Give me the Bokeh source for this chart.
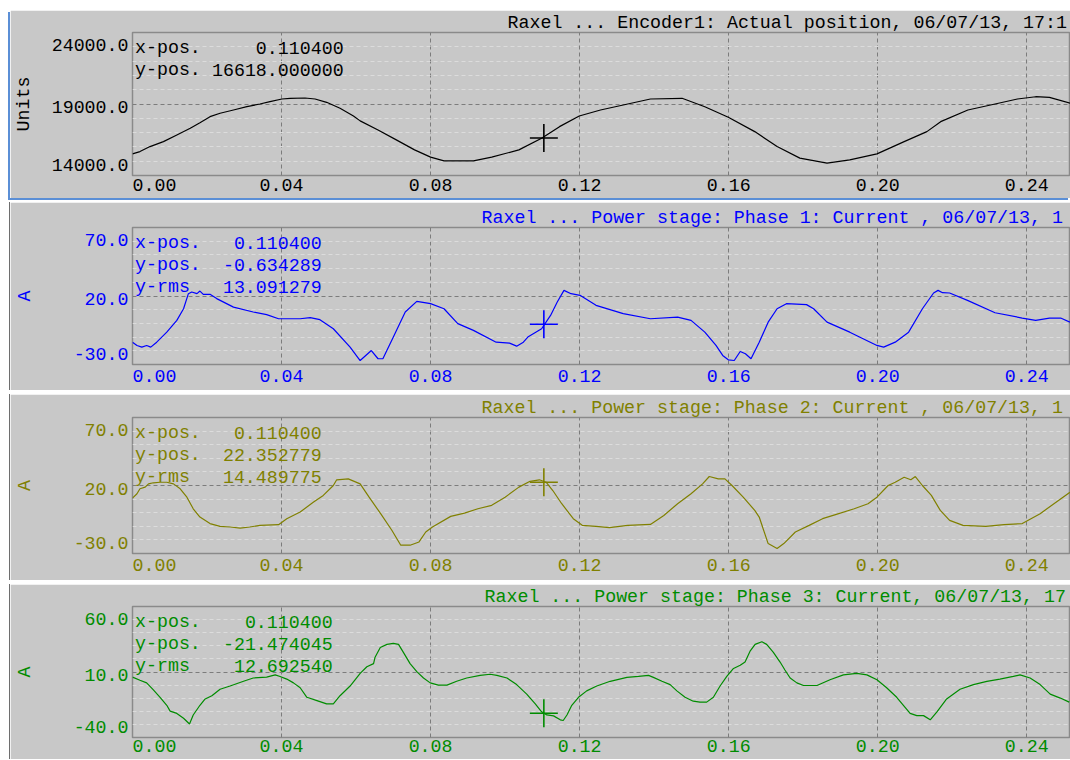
from bokeh.plotting import figure
from bokeh.layouts import column
from bokeh.models import FixedTicker, CustomJSTickFormatter, Label, Range1d
from bokeh.embed import file_html
from bokeh.resources import INLINE

# ---------------- data ----------------
cursor_x = 0.1104

enc_t = [0.0000, 0.0020, 0.0047, 0.0083, 0.0119, 0.0155, 0.0181, 0.0208, 0.0235, 0.0271,
         0.0307, 0.0342, 0.0369, 0.0401, 0.0423, 0.0463, 0.0490, 0.0521, 0.0557, 0.0593,
         0.0611, 0.0659, 0.0708, 0.0757, 0.0800, 0.0836, 0.0915, 0.0964, 0.1037, 0.1098,
         0.1146, 0.1199, 0.1256, 0.1317, 0.1390, 0.1475, 0.1536, 0.1599, 0.1670, 0.1730,
         0.1791, 0.1864, 0.1925, 0.1998, 0.2071, 0.2132, 0.2169, 0.2242, 0.2315, 0.2375,
         0.2424, 0.2461, 0.2517]
enc_pos = [15513, 15674, 16022, 16371, 16838, 17306, 17696, 18115, 18352, 18582,
           18812, 19000, 19161, 19349, 19398, 19419, 19349, 19119, 18700, 18163,
           17820, 17187, 16490, 15792, 15283, 15025, 15025, 15283, 15792, 16608,
           17417, 18163, 18582, 18931, 19349, 19398, 18812, 18073, 17069, 16022,
           15213, 14865, 15095, 15513, 16371, 17069, 17766, 18582, 19000, 19349,
           19509, 19468, 19049]

ph1_t = [0.0000, 0.0012, 0.0025, 0.0038, 0.0049, 0.0065, 0.0092, 0.0119, 0.0137, 0.0150,
         0.0159, 0.0173, 0.0181, 0.0190, 0.0208, 0.0226, 0.0271, 0.0324, 0.0360, 0.0392,
         0.0450, 0.0477, 0.0503, 0.0539, 0.0584, 0.0611,
         0.0641, 0.0659, 0.0672, 0.0702, 0.0732, 0.0763, 0.0800, 0.0836, 0.0873, 0.0915,
         0.0976, 0.1012, 0.1031, 0.1049, 0.1061, 0.1098, 0.1122, 0.1140, 0.1158, 0.1177,
         0.1201, 0.1244, 0.1317, 0.1390, 0.1463, 0.1499, 0.1536, 0.1566, 0.1584, 0.1599,
         0.1615, 0.1631, 0.1645, 0.1660, 0.1682, 0.1706, 0.1730, 0.1755, 0.1809, 0.1828,
         0.1864, 0.1925, 0.1998, 0.2016, 0.2047, 0.2083, 0.2120, 0.2150, 0.2162, 0.2174,
         0.2193, 0.2241, 0.2315, 0.2388, 0.2424, 0.2461, 0.2491, 0.2516]
ph1_i = [-13.7, -16.1, -17.3, -16.1, -17.3, -13.7, -6.4, 2.2, 10.7, 21.7,
         22.9, 21.7, 23.6, 21.2, 21.2, 18.1, 11.9, 8.3, 6.4, 3.4,
         3.4, 4.2, 2.7, -3.9, -17.3, -27.1,
         -19.8, -25.8, -25.8, -8.8, 8.3, 16.1, 14.4, 10.7, -0.2, -5.1,
         -13.7, -14.4, -16.6, -13.7, -10.0, -3.9, 5.8, 15.6, 24.1, 21.7,
         20.5, 13.2, 7.1, 3.4, 4.6, 2.2, -6.4, -16.1, -23.4, -26.6,
         -27.1, -20.5, -22.2, -25.8, -13.7, 0.9, 10.7, 14.4, 13.7, 10.7,
         0.9, -6.4, -16.1, -17.3, -13.7, -6.4, 10.7, 22.2, 24.1, 22.4,
         22.2, 16.8, 7.8, 3.9, 2.2, 3.9, 3.9, 0.9]

ph2_t = [0.0000, 0.0012, 0.0020, 0.0034, 0.0043, 0.0056, 0.0074, 0.0092, 0.0110, 0.0128,
         0.0146, 0.0163, 0.0181, 0.0208, 0.0235, 0.0262, 0.0289, 0.0315, 0.0342, 0.0392,
         0.0414, 0.0450, 0.0486, 0.0512, 0.0539, 0.0548, 0.0579, 0.0611,
         0.0635, 0.0666, 0.0696, 0.0720, 0.0745, 0.0769, 0.0787, 0.0805, 0.0854, 0.0891,
         0.0927, 0.0964, 0.1000, 0.1037, 0.1067, 0.1092, 0.1110, 0.1128, 0.1152, 0.1183,
         0.1207, 0.1244, 0.1280, 0.1329, 0.1390, 0.1426, 0.1463, 0.1499, 0.1530, 0.1548,
         0.1572, 0.1590, 0.1609, 0.1639, 0.1670, 0.1682, 0.1706, 0.1730, 0.1748, 0.1779,
         0.1816, 0.1852, 0.1889, 0.1937, 0.1974, 0.1998, 0.2028, 0.2047, 0.2071, 0.2089,
         0.2101, 0.2120, 0.2144, 0.2168, 0.2193, 0.2229, 0.2290, 0.2339, 0.2388, 0.2436,
         0.2473, 0.2516]
ph2_i = [10.7, 13.9, 17.6, 18.8, 21.2, 22.0, 22.4, 22.4, 21.2, 17.6,
         11.4, 2.9, -3.2, -8.0, -10.0, -10.5, -11.3, -10.5, -9.3, -8.8,
         -4.4, 0.5, 7.8, 12.7, 20.0, 24.2, 24.9, 21.2,
         11.4, -0.7, -12.9, -23.9, -23.9, -21.5, -14.2, -10.5, -2.7, -0.3,
         2.9, 5.4, 11.4, 18.8, 23.1, 24.2, 22.4, 16.3, 6.6, -4.4,
         -9.3, -10.0, -11.0, -9.3, -8.6, -2.0, 6.6, 13.9, 21.2, 26.6,
         24.9, 24.9, 20.0, 11.4, 1.7, -3.2, -22.7, -26.3, -22.7, -14.2,
         -9.3, -4.4, -1.2, 2.9, 6.6, 11.4, 20.0, 22.4, 26.1, 24.2,
         26.6, 20.0, 12.7, 1.7, -5.6, -9.3, -10.0, -8.8, -8.0, -0.7,
         6.6, 15.1]

ph3_t = [0.0000, 0.0020, 0.0038, 0.0056, 0.0074, 0.0092, 0.0101, 0.0119, 0.0137, 0.0153,
         0.0163, 0.0181, 0.0195, 0.0213, 0.0235, 0.0262, 0.0298, 0.0324, 0.0360, 0.0383,
         0.0396, 0.0414, 0.0432, 0.0450, 0.0468, 0.0495, 0.0521, 0.0539, 0.0557, 0.0584,
         0.0611, 0.0629, 0.0647, 0.0651, 0.0665, 0.0683, 0.0700, 0.0714, 0.0727, 0.0745,
         0.0763, 0.0781, 0.0799, 0.0821, 0.0844, 0.0870, 0.0897, 0.0933, 0.0960, 0.0978,
         0.1005, 0.1031, 0.1058, 0.1081, 0.1098, 0.1112, 0.1130, 0.1148, 0.1156, 0.1166,
         0.1179, 0.1197, 0.1219, 0.1246, 0.1282, 0.1327, 0.1358, 0.1385, 0.1398, 0.1421,
         0.1443, 0.1461, 0.1483, 0.1505,
         0.1523, 0.1541, 0.1559, 0.1577, 0.1595, 0.1613, 0.1631, 0.1644, 0.1658, 0.1671,
         0.1689, 0.1702, 0.1720, 0.1738, 0.1751, 0.1765, 0.1783, 0.1801, 0.1837, 0.1872,
         0.1908, 0.1944, 0.1971, 0.1998, 0.2024, 0.2051, 0.2069, 0.2087, 0.2105, 0.2123,
         0.2141, 0.2159, 0.2185, 0.2221, 0.2257, 0.2293, 0.2328, 0.2364, 0.2382, 0.2409,
         0.2436, 0.2463, 0.2490, 0.2514]
ph3_i = [6.1, 3.7, 1.7, -3.7, -9.3, -15.4, -19.9, -21.6, -25.3, -29.7,
         -22.8, -15.4, -10.6, -8.1, -3.2, -0.7, 2.9, 5.4, 6.1, 7.8,
         6.6, 4.6, 1.7, -2.0, -9.3, -11.8, -14.3, -14.3, -8.1, -0.7,
         9.0, 14.0, 16.4, 21.3, 28.7, 31.1, 31.8, 31.1, 25.0, 16.4,
         10.3, 5.4, 1.7, 0.0, 0.0, 2.9, 5.4, 7.4, 8.3, 7.4,
         5.4, 0.4, -6.9, -14.3, -20.4, -22.8, -23.5, -26.5, -27.0, -22.8,
         -15.4, -9.3, -4.4, -0.7, 2.9, 5.9, 6.6, 7.4, 5.9, 2.9,
         0.4, -4.4, -9.3, -12.3,
         -13.0, -13.0, -9.3, -0.7, 6.6, 12.7, 15.1, 17.6, 26.2, 31.1,
         33.1, 31.1, 25.0, 17.6, 11.5, 5.4, 1.7, -0.3, -0.3, 4.1,
         7.8, 9.0, 7.8, 4.1, -2.0, -9.3, -15.4, -21.6, -23.3, -23.3,
         -26.5, -20.4, -10.6, -3.2, 0.4, 2.9, 4.6, 6.6, 7.8, 5.4,
         0.4, -6.9, -9.9, -13.0]

titles = ["Raxel ... Encoder1: Actual position, 06/07/13, 17:1",
          "Raxel ... Power stage: Phase 1: Current , 06/07/13, 1",
          "Raxel ... Power stage: Phase 2: Current , 06/07/13, 1",
          "Raxel ... Power stage: Phase 3: Current, 06/07/13, 17"]
y_units = ["Units", "A", "A", "A"]
y_ranges = [(14000, 24000), (-30, 70), (-30, 70), (-40, 60)]
cursor_y = [16618.0, -0.634289, 22.352779, -21.474045]
y_rms = [None, 13.091279, 14.489775, 12.692540]
x_tick_values = [0.00, 0.04, 0.08, 0.12, 0.16, 0.20, 0.24]
colors = ["#000000", "#0000ff", "#808000", "#008c00"]

series_t = [enc_t, ph1_t, ph2_t, ph3_t]
series_v = [enc_pos, ph1_i, ph2_i, ph3_i]

# ---------------- layout / style ----------------
FONT = "Liberation Mono"
FS = 18.3
FS_STR = "18.3px"
CHAR_W = 0.6 * FS
PX_PER_S = 3726.0
FIG_W = 1060
FRAME_LEFT = 122
BG = "#c8c8c8"
x_end = (FIG_W - FRAME_LEFT) / PX_PER_S

heights = [188, 188, 186, 175]
tops = [22, 25, 23, 22]
bottoms = [23, 26, 27, 22]
x_standoff = [3, 5, 5, 2]
title_left_px = [375.0, 349.0, 349.0, 352.0]
info_cols = [19, 17, 17, 18]
ylab_standoff = [15, 36, 36, 36]
host_styles = [{"box-shadow": "-2px 2px 0 0 #5b8fd6"},
               {"box-shadow": "-1px 0 0 0 #6e6e6e"},
               {"box-shadow": "-1px 0 0 0 #6e6e6e"},
               {"box-shadow": "-1px 0 0 0 #6e6e6e"}]

figs = []
for i in range(4):
    lo, hi = y_ranges[i]
    mid = (lo + hi) / 2.0
    col = colors[i]
    frame_h = heights[i] - tops[i] - bottoms[i]
    ppu = frame_h / (hi - lo)

    p = figure(width=FIG_W, height=heights[i], x_range=Range1d(0, x_end),
               y_range=Range1d(lo, hi), output_backend="svg", toolbar_location=None,
               min_border_left=FRAME_LEFT, min_border_right=0,
               min_border_top=tops[i], min_border_bottom=bottoms[i])
    p.styles = host_styles[i]
    p.background_fill_color = BG
    p.border_fill_color = BG
    p.outline_line_color = "#8a8a8a"
    p.outline_line_width = 1.5

    # title (drawn in the panel above the frame)
    p.title.text = titles[i]
    p.title.text_font = FONT
    p.title.text_font_size = FS_STR
    p.title.text_font_style = "normal"
    p.title.text_color = col
    p.title.align = "left"
    p.title.offset = title_left_px[i]
    p.title.standoff = 0

    # grids
    minor = [lo + k * (hi - lo) / 10.0 for k in range(1, 10) if k != 5]
    p.ygrid.ticker = FixedTicker(ticks=[mid], minor_ticks=minor)
    p.ygrid.grid_line_color = "#7c7c7c"
    p.ygrid.grid_line_dash = "4 3"
    p.ygrid.minor_grid_line_color = "#dcdcdc"
    p.ygrid.minor_grid_line_dash = "4 3"
    p.xgrid.ticker = FixedTicker(ticks=x_tick_values[1:])
    p.xgrid.grid_line_color = "#7c7c7c"
    p.xgrid.grid_line_dash = "4 3"

    # y axis: labels show range ends and middle, placed inside the frame
    yt = [lo + 11.0 / ppu, mid - 3.0 / ppu, hi - 12.0 / ppu]
    ylabels = ["%.1f" % v for v in (lo, mid, hi)]
    ya = p.yaxis[0]
    ya.ticker = FixedTicker(ticks=yt)
    ya.formatter = CustomJSTickFormatter(args=dict(labels=ylabels), code="return labels[index];")
    ya.axis_label = y_units[i]
    ya.axis_label_text_font = FONT
    ya.axis_label_text_font_size = FS_STR
    ya.axis_label_text_font_style = "normal"
    ya.axis_label_text_color = col
    ya.axis_label_standoff = ylab_standoff[i]

    # x axis: first label kept inside the frame
    xt = [x_tick_values[0] + 2 * CHAR_W / PX_PER_S] + x_tick_values[1:]
    xlabels = ["%.2f" % v for v in x_tick_values]
    xa = p.xaxis[0]
    xa.ticker = FixedTicker(ticks=xt)
    xa.formatter = CustomJSTickFormatter(args=dict(labels=xlabels), code="return labels[index];")

    for ax in (xa, ya):
        ax.axis_line_color = None
        ax.major_tick_line_color = None
        ax.minor_tick_line_color = None
        ax.major_tick_in = 0
        ax.major_tick_out = 0
        ax.minor_tick_in = 0
        ax.minor_tick_out = 0
        ax.major_label_text_font = FONT
        ax.major_label_text_font_size = FS_STR
        ax.major_label_text_color = col
    xa.major_label_standoff = x_standoff[i]
    ya.major_label_standoff = 4

    # trace and cursor
    p.line(series_t[i], series_v[i], line_color=col, line_width=1.2)
    p.scatter([cursor_x], [cursor_y[i]], marker="cross", size=28,
              line_color=col, line_width=1.6)

    # cursor read-out
    rows = [("x-pos.", "%.6f" % cursor_x), ("y-pos.", "%.6f" % cursor_y[i])]
    if y_rms[i] is not None:
        rows.append(("y-rms", "%.6f" % y_rms[i]))
    for k, (name, val) in enumerate(rows):
        yoff = -(15.5 + 22.0 * k)
        p.add_layout(Label(x=0, y=hi, x_offset=2.5, y_offset=yoff, text=name,
                           text_font=FONT, text_font_size=FS_STR, text_color=col,
                           text_align="left", text_baseline="middle"))
        p.add_layout(Label(x=0, y=hi, x_offset=2.5 + info_cols[i] * CHAR_W, y_offset=yoff,
                           text=val, text_font=FONT, text_font_size=FS_STR,
                           text_color=col, text_align="right", text_baseline="middle"))
    figs.append(p)

layout = column(figs, spacing=4, margin=(10, 0, 0, 10))
open("out.html", "w").write(file_html(layout, INLINE))
